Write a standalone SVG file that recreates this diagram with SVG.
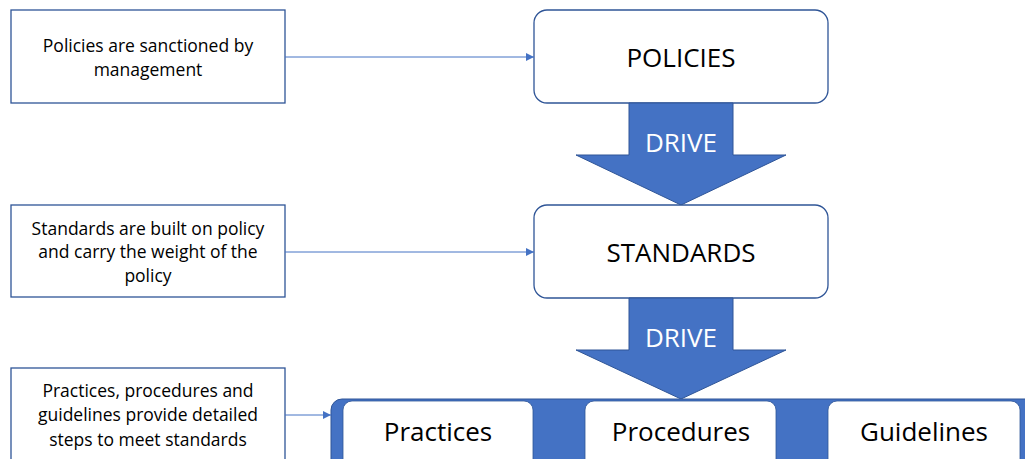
<svg xmlns="http://www.w3.org/2000/svg" width="1025" height="459" viewBox="0 0 1025 459">
<defs>
<style>
.note{fill:#fff;stroke:#2F5597;stroke-width:1.3}
.main{fill:#fff;stroke:#2F5597;stroke-width:1.3}
.t{font-family:"Open Sans","Liberation Sans",sans-serif;fill:#000;text-anchor:middle}
.s{font-size:17.5px}
.b{font-size:26px}
.w{fill:#fff}
.con{stroke:#4472C4;stroke-width:1;fill:none}
.arr{fill:#4472C4;stroke:#2F5597;stroke-width:1}
</style>
<marker id="ah" viewBox="0 0 10 10" refX="10" refY="5" markerWidth="8" markerHeight="8" markerUnits="userSpaceOnUse" orient="auto"><path d="M0,0 L10,5 L0,10 z" fill="#4472C4"/></marker>
</defs>
<g id="note1"><rect class="note" x="11" y="10" width="274" height="93"/>
<text class="t s" x="148" y="52">Policies are sanctioned by</text>
<text class="t s" x="148" y="76">management</text></g>
<g id="note2"><rect class="note" x="11" y="205" width="274" height="92"/>
<text class="t s" x="148" y="235">Standards are built on policy</text>
<text class="t s" x="148" y="258">and carry the weight of the</text>
<text class="t s" x="148" y="282">policy</text></g>
<g id="note3"><rect class="note" x="11" y="368" width="274" height="100"/>
<text class="t s" x="148" y="397">Practices, procedures and</text>
<text class="t s" x="148" y="421">guidelines provide detailed</text>
<text class="t s" x="148" y="446">steps to meet standards</text></g>
<g id="policies"><rect class="main" x="534" y="10" width="294" height="93" rx="13"/>
<text class="t b" x="681" y="67">POLICIES</text></g>
<g id="drive1"><path class="arr" d="M629,103 H733 V155 H786 L681,205 L576,155 H629 Z"/>
<text class="t b w" x="681" y="152">DRIVE</text></g>
<g id="standards"><rect class="main" x="534" y="205" width="294" height="93" rx="13"/>
<text class="t b" x="681" y="262">STANDARDS</text></g>
<g id="drive2"><path class="arr" d="M629,298 H733 V350 H786 L681,399 L576,350 H629 Z"/>
<text class="t b w" x="681" y="347">DRIVE</text></g>
<g id="group"><rect x="331" y="399" width="710" height="80" rx="11" fill="#4472C4" stroke="#2F5597" stroke-width="1"/></g>
<g id="practices"><rect x="343" y="401" width="190" height="70" rx="9" fill="#fff" stroke="#2F5597" stroke-width="0.8"/>
<text class="t b" x="438" y="441">Practices</text></g>
<g id="procedures"><rect x="585" y="401" width="191" height="70" rx="9" fill="#fff" stroke="#2F5597" stroke-width="0.8"/>
<text class="t b" x="681" y="441">Procedures</text></g>
<g id="guidelines"><rect x="828" y="401" width="192" height="70" rx="9" fill="#fff" stroke="#2F5597" stroke-width="0.8"/>
<text class="t b" x="924" y="441">Guidelines</text></g>
<g id="connectors">
<line class="con" x1="285" y1="57" x2="534" y2="57" marker-end="url(#ah)"/>
<line class="con" x1="285" y1="252" x2="534" y2="252" marker-end="url(#ah)"/>
<line class="con" x1="285" y1="415" x2="331" y2="415" marker-end="url(#ah)"/>
</g>
</svg>
